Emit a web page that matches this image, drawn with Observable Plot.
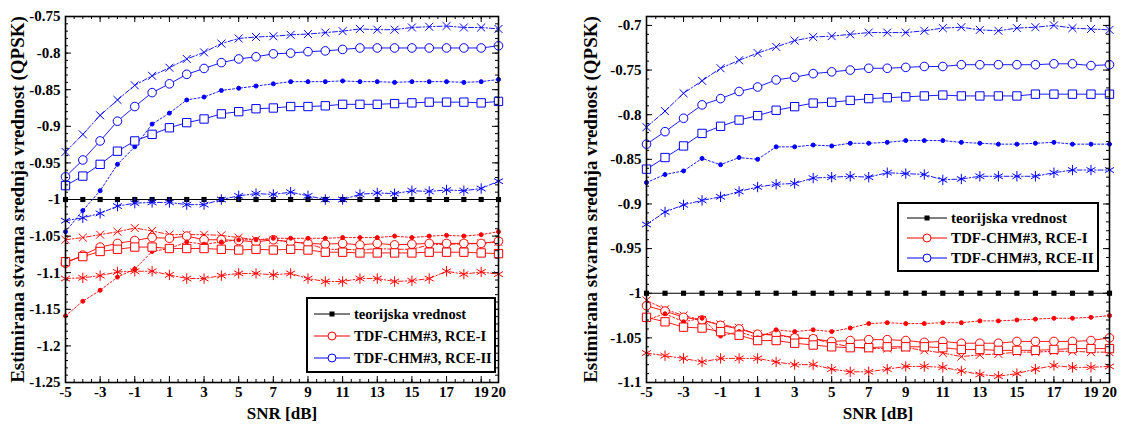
<!DOCTYPE html>
<html><head><meta charset="utf-8">
<script src="https://cdn.jsdelivr.net/npm/d3@7"></script>
<script src="https://cdn.jsdelivr.net/npm/@observablehq/plot@0.6"></script>
<style>
body{margin:0;background:#fff;}
#wrap{position:relative;width:1123px;height:427px;display:flex;}
#wrap svg text{font-family:"Liberation Serif","Times New Roman",Times,"DejaVu Serif",serif !important;font-weight:bold;}
.legend{position:absolute;box-sizing:border-box;border:2px solid #000;background:#fff;font-family:"Liberation Serif","Times New Roman",Times,"DejaVu Serif",serif;font-weight:bold;color:#000;}
.legend .row{display:flex;align-items:center;white-space:nowrap;}
</style></head><body><div id="wrap"></div>
<script>
const snr = [-5,-4,-3,-2,-1,0,1,2,3,4,5,6,7,8,9,10,11,12,13,14,15,16,17,18,19,20];
const theory = [-1,-1,-1,-1,-1,-1,-1,-1,-1,-1,-1,-1,-1,-1,-1,-1,-1,-1,-1,-1,-1,-1,-1,-1,-1,-1];
const xTickLabels = [-5,-3,-1,1,3,5,7,9,11,13,15,17,19,20];
const leftYTicks = [-1.25,-1.2,-1.15,-1.1,-1.05,-1,-0.95,-0.9,-0.85,-0.8,-0.75];
const rightYTicks = [-1.1,-1.05,-1,-0.95,-0.9,-0.85,-0.8,-0.75,-0.7];
const yTitle = "Estimirana stvarna srednja vrednost (QPSK)";
const xTitle = "SNR [dB]";
const legendLabels = ["teorijska vrednost","TDF-CHM#3, RCE-I","TDF-CHM#3, RCE-II"];

// Left panel
const L_blue_x   = [-0.935,-0.911,-0.885,-0.864,-0.844,-0.831,-0.820,-0.808,-0.799,-0.787,-0.780,-0.778,-0.777,-0.775,-0.774,-0.772,-0.770,-0.767,-0.768,-0.768,-0.765,-0.764,-0.763,-0.765,-0.765,-0.767];
const L_blue_o   = [-0.969,-0.946,-0.920,-0.893,-0.873,-0.854,-0.842,-0.829,-0.821,-0.813,-0.808,-0.805,-0.801,-0.800,-0.798,-0.797,-0.795,-0.793,-0.793,-0.793,-0.793,-0.793,-0.793,-0.793,-0.793,-0.790];
const L_blue_dot = [-1.044,-1.015,-0.988,-0.952,-0.928,-0.897,-0.882,-0.864,-0.860,-0.851,-0.848,-0.845,-0.842,-0.839,-0.839,-0.839,-0.838,-0.839,-0.839,-0.840,-0.839,-0.839,-0.839,-0.840,-0.839,-0.836];
const L_blue_sq  = [-0.981,-0.968,-0.952,-0.934,-0.920,-0.911,-0.902,-0.895,-0.890,-0.883,-0.880,-0.876,-0.875,-0.873,-0.873,-0.872,-0.870,-0.870,-0.870,-0.869,-0.868,-0.867,-0.867,-0.867,-0.868,-0.866];
const L_blue_star= [-1.029,-1.025,-1.019,-1.009,-1.005,-1.004,-1.004,-1.007,-1.007,-1.000,-0.995,-0.992,-0.993,-0.990,-0.995,-1.000,-1.000,-0.993,-0.991,-0.992,-0.988,-0.989,-0.987,-0.988,-0.985,-0.975];
const L_red_x    = [-1.055,-1.052,-1.048,-1.044,-1.039,-1.043,-1.048,-1.048,-1.048,-1.049,-1.052,-1.055,-1.055,-1.058,-1.060,-1.068,-1.068,-1.069,-1.067,-1.068,-1.068,-1.062,-1.061,-1.061,-1.060,-1.058];
const L_red_o    = [-1.087,-1.076,-1.065,-1.060,-1.056,-1.052,-1.053,-1.050,-1.055,-1.055,-1.056,-1.058,-1.055,-1.058,-1.060,-1.061,-1.060,-1.062,-1.060,-1.062,-1.061,-1.060,-1.060,-1.060,-1.060,-1.057];
const L_red_dot  = [-1.159,-1.139,-1.124,-1.106,-1.095,-1.071,-1.067,-1.058,-1.061,-1.058,-1.055,-1.055,-1.053,-1.053,-1.053,-1.053,-1.052,-1.052,-1.052,-1.050,-1.052,-1.050,-1.049,-1.050,-1.048,-1.044];
const L_red_sq   = [-1.085,-1.078,-1.071,-1.068,-1.065,-1.065,-1.067,-1.067,-1.067,-1.068,-1.069,-1.068,-1.069,-1.068,-1.069,-1.072,-1.072,-1.073,-1.073,-1.073,-1.073,-1.072,-1.072,-1.072,-1.073,-1.074];
const L_red_star = [-1.108,-1.107,-1.104,-1.099,-1.098,-1.098,-1.103,-1.108,-1.108,-1.104,-1.101,-1.101,-1.103,-1.101,-1.108,-1.112,-1.112,-1.108,-1.108,-1.112,-1.111,-1.108,-1.098,-1.102,-1.099,-1.102];

// Right panel
const R_blue_x   = [-0.814,-0.796,-0.776,-0.762,-0.748,-0.739,-0.731,-0.724,-0.717,-0.713,-0.712,-0.710,-0.708,-0.708,-0.708,-0.706,-0.703,-0.702,-0.705,-0.706,-0.703,-0.702,-0.700,-0.703,-0.704,-0.705];
const R_blue_o   = [-0.833,-0.819,-0.804,-0.789,-0.782,-0.774,-0.769,-0.761,-0.758,-0.754,-0.752,-0.750,-0.748,-0.748,-0.747,-0.746,-0.746,-0.744,-0.744,-0.744,-0.744,-0.744,-0.743,-0.743,-0.745,-0.744];
const R_blue_dot = [-0.876,-0.867,-0.863,-0.849,-0.856,-0.848,-0.850,-0.836,-0.836,-0.834,-0.835,-0.832,-0.832,-0.831,-0.829,-0.829,-0.829,-0.831,-0.832,-0.833,-0.833,-0.832,-0.831,-0.833,-0.833,-0.833];
const R_blue_sq  = [-0.861,-0.848,-0.835,-0.821,-0.813,-0.806,-0.801,-0.795,-0.791,-0.787,-0.786,-0.784,-0.782,-0.781,-0.780,-0.779,-0.778,-0.779,-0.779,-0.779,-0.779,-0.777,-0.777,-0.777,-0.777,-0.777];
const R_blue_star= [-0.923,-0.909,-0.901,-0.896,-0.892,-0.886,-0.881,-0.878,-0.877,-0.871,-0.870,-0.869,-0.870,-0.865,-0.866,-0.867,-0.873,-0.872,-0.869,-0.869,-0.869,-0.869,-0.865,-0.862,-0.862,-0.862];
const R_red_x    = [-1.008,-1.018,-1.025,-1.030,-1.035,-1.039,-1.046,-1.047,-1.050,-1.051,-1.056,-1.060,-1.062,-1.062,-1.061,-1.064,-1.067,-1.071,-1.069,-1.068,-1.066,-1.066,-1.065,-1.065,-1.066,-1.066];
const R_red_o    = [-1.014,-1.020,-1.027,-1.030,-1.036,-1.040,-1.046,-1.046,-1.050,-1.051,-1.054,-1.053,-1.052,-1.052,-1.053,-1.055,-1.054,-1.056,-1.056,-1.056,-1.054,-1.054,-1.054,-1.054,-1.053,-1.050];
const R_red_dot  = [-1.030,-1.023,-1.032,-1.028,-1.048,-1.043,-1.050,-1.041,-1.043,-1.041,-1.043,-1.039,-1.034,-1.033,-1.034,-1.034,-1.033,-1.033,-1.031,-1.031,-1.030,-1.029,-1.028,-1.028,-1.027,-1.025];
const R_red_sq   = [-1.027,-1.032,-1.038,-1.039,-1.043,-1.047,-1.053,-1.053,-1.056,-1.058,-1.060,-1.061,-1.061,-1.060,-1.060,-1.060,-1.061,-1.063,-1.063,-1.064,-1.064,-1.064,-1.063,-1.062,-1.062,-1.062];
const R_red_star = [-1.067,-1.070,-1.073,-1.077,-1.073,-1.073,-1.073,-1.077,-1.080,-1.080,-1.085,-1.088,-1.088,-1.085,-1.082,-1.082,-1.083,-1.087,-1.091,-1.093,-1.090,-1.085,-1.081,-1.083,-1.083,-1.082];

const RED = "#ff0000", BLUE = "#0000ff";
const FONT = "Liberation Serif";
const styles = {
  x:    {symbol: "times",    r: 3.7, fill: "none",  dash: "5,2,1.5,2"},
  o:    {symbol: "circle",   r: 4.3, fill: "white", dash: null},
  dot:  {symbol: "circle",   r: 2,   fill: "color", dash: "2,2"},
  sq:   {symbol: "square",   r: 4.7, fill: "white", dash: null},
  star: {symbol: "asterisk", r: 4.9, fill: "none",  dash: "5,2,1.5,2"}
};

function panel({width, ml, mr, ydom, yticks, series, titleDx}) {
  const H = 427, mt = 16, mb = 45;
  const iw = width - ml - mr, ih = H - mt - mb;
  const pts = v => snr.map((x, i) => ({x, y: v[i]}));
  const minorX = d3.range(-5, 20.001, 0.5);
  const majorX = xTickLabels.filter(d => d !== 20);
  const minorY = d3.range(Math.round(ydom[0]*100), Math.round(ydom[1]*100) + 1, 1).map(d => d/100);
  const marks = [];
  marks.push(Plot.line(pts(theory), {x: "x", y: "y", stroke: "#000", strokeWidth: 1.2}));
  marks.push(Plot.dot(pts(theory), {x: "x", y: "y", symbol: "square", r: 2.9, fill: "#000", stroke: "none"}));
  for (const s of series) {
    const st = styles[s.kind];
    const o = {x: "x", y: "y", stroke: s.color, strokeWidth: 1, strokeOpacity: 0.9};
    if (st.dash) o.strokeDasharray = st.dash;
    marks.push(Plot.line(pts(s.values), o));
  }
  for (const s of series) {
    const st = styles[s.kind];
    marks.push(Plot.dot(pts(s.values), {x: "x", y: "y", symbol: st.symbol, r: st.r, stroke: s.color, strokeWidth: 1,
      fill: st.fill === "color" ? s.color : st.fill}));
  }
  // inward ticks
  marks.push(Plot.tickX(minorX, {x: d => d, insetTop: ih - 3, stroke: "#000"}));
  marks.push(Plot.tickX(minorX, {x: d => d, insetBottom: ih - 3, stroke: "#000"}));
  marks.push(Plot.tickX(majorX, {x: d => d, insetTop: ih - 6, stroke: "#000"}));
  marks.push(Plot.tickX(majorX, {x: d => d, insetBottom: ih - 6, stroke: "#000"}));
  marks.push(Plot.tickY(minorY, {y: d => d, insetRight: iw - 3, stroke: "#000"}));
  marks.push(Plot.tickY(minorY, {y: d => d, insetLeft: iw - 3, stroke: "#000"}));
  marks.push(Plot.tickY(yticks, {y: d => d, insetRight: iw - 6, stroke: "#000"}));
  marks.push(Plot.tickY(yticks, {y: d => d, insetLeft: iw - 6, stroke: "#000"}));
  marks.push(Plot.frame({stroke: "#000", strokeWidth: 1.6}));
  marks.push(Plot.axisX({ticks: xTickLabels, tickSize: 0, tickPadding: 4, tickFormat: d => String(d), label: null, fontSize: 15, fontWeight: "bold", fontFamily: FONT}));
  marks.push(Plot.axisY({ticks: yticks, tickSize: 0, tickPadding: 5, tickFormat: d => String(+d.toFixed(2)), label: null, fontSize: 15, fontWeight: "bold", fontFamily: FONT}));
  marks.push(Plot.text([yTitle], {text: d => d, frameAnchor: "left", textAnchor: "middle", rotate: -90, dx: titleDx, fontSize: 19, fontWeight: "bold", fontFamily: FONT, lineAnchor: "middle"}));
  marks.push(Plot.text([xTitle], {text: d => d, frameAnchor: "bottom", textAnchor: "middle", dy: 31, fontSize: 17, fontWeight: "bold", fontFamily: FONT, lineAnchor: "middle"}));
  return Plot.plot({
    width, height: H, marginLeft: ml, marginRight: mr, marginTop: mt, marginBottom: mb,
    x: {domain: [-5, 20]}, y: {domain: ydom},
    style: {fontFamily: FONT, fontSize: "15px", background: "#fff", color: "#000", overflow: "visible"},
    marks
  });
}

const wrap = document.getElementById("wrap");
wrap.appendChild(panel({
  width: 561, ml: 65, mr: 63, ydom: [-1.25, -0.75], yticks: leftYTicks, titleDx: -48,
  series: [
    {kind: "x", color: BLUE, values: L_blue_x}, {kind: "o", color: BLUE, values: L_blue_o},
    {kind: "dot", color: BLUE, values: L_blue_dot}, {kind: "sq", color: BLUE, values: L_blue_sq},
    {kind: "star", color: BLUE, values: L_blue_star},
    {kind: "x", color: RED, values: L_red_x}, {kind: "o", color: RED, values: L_red_o},
    {kind: "dot", color: RED, values: L_red_dot}, {kind: "sq", color: RED, values: L_red_sq},
    {kind: "star", color: RED, values: L_red_star}
  ]
}));
wrap.appendChild(panel({
  width: 562, ml: 85, mr: 14, ydom: [-1.1, -0.69], yticks: rightYTicks, titleDx: -56,
  series: [
    {kind: "x", color: BLUE, values: R_blue_x}, {kind: "o", color: BLUE, values: R_blue_o},
    {kind: "dot", color: BLUE, values: R_blue_dot}, {kind: "sq", color: BLUE, values: R_blue_sq},
    {kind: "star", color: BLUE, values: R_blue_star},
    {kind: "x", color: RED, values: R_red_x}, {kind: "o", color: RED, values: R_red_o},
    {kind: "dot", color: RED, values: R_red_dot}, {kind: "sq", color: RED, values: R_red_sq},
    {kind: "star", color: RED, values: R_red_star}
  ]
}));

const legendColors = ["#000", RED, BLUE];
function legend({left, top, width, height, rowH, padL, lineW, gap, fs, padT}) {
  const div = document.createElement("div");
  div.className = "legend";
  Object.assign(div.style, {left: left + "px", top: top + "px", width: width + "px", height: height + "px",
    paddingTop: padT + "px", paddingLeft: padL + "px", fontSize: fs + "px"});
  legendLabels.forEach((lab, i) => {
    const row = document.createElement("div");
    row.className = "row";
    row.style.height = rowH + "px";
    const svg = d3.create("svg").attr("width", lineW).attr("height", rowH).style("margin-right", gap + "px").style("flex", "none");
    svg.append("line").attr("x1", 0).attr("x2", lineW).attr("y1", rowH/2).attr("y2", rowH/2)
      .attr("stroke", legendColors[i]).attr("stroke-width", 1.2);
    if (i === 0) svg.append("rect").attr("x", lineW/2 - 2.5).attr("y", rowH/2 - 2.5).attr("width", 5).attr("height", 5).attr("fill", "#000");
    else svg.append("circle").attr("cx", lineW/2).attr("cy", rowH/2).attr("r", 4).attr("fill", "#fff").attr("stroke", legendColors[i]).attr("stroke-width", 1);
    row.appendChild(svg.node());
    const t = document.createElement("span");
    t.textContent = lab;
    row.appendChild(t);
    div.appendChild(row);
  });
  wrap.appendChild(div);
}
legend({left: 306, top: 297, width: 190, height: 76, rowH: 22, padL: 6, lineW: 36, gap: 4, fs: 14.5, padT: 4});
legend({left: 897, top: 202, width: 202, height: 70, rowH: 20, padL: 8, lineW: 40, gap: 4, fs: 15, padT: 4});
</script></body></html>
